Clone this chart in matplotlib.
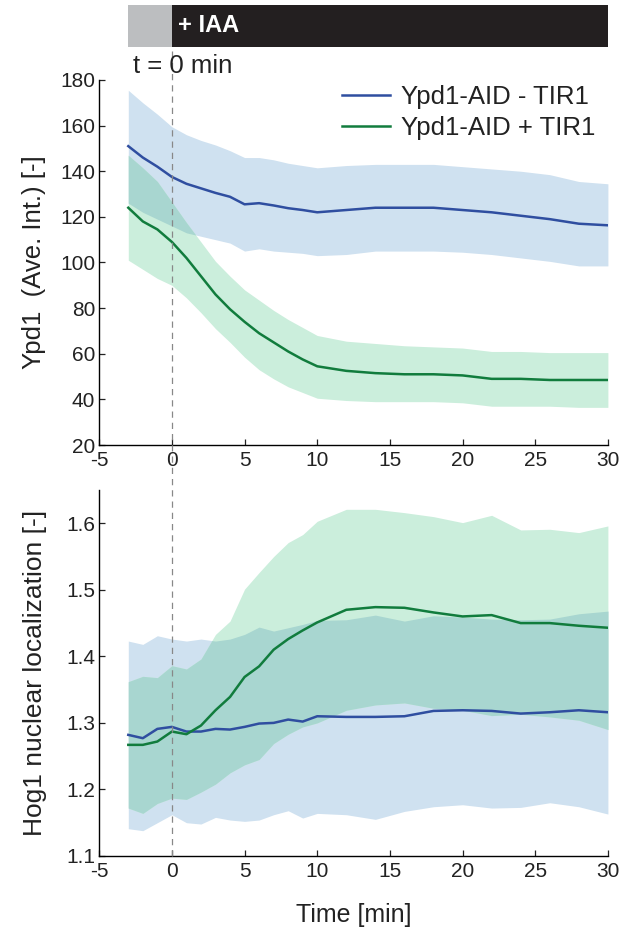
import matplotlib
matplotlib.use("Agg")
import matplotlib.pyplot as plt
import matplotlib.transforms as mtrans
from matplotlib.lines import Line2D
import numpy as np

plt.rcParams['font.family'] = ['Liberation Sans', 'DejaVu Sans']

# ---- data ----
time = [-3, -2, -1, 0, 1, 2, 3, 4, 5, 6, 7, 8, 9, 10, 12, 14, 16, 18, 20, 22, 24, 26, 28, 30]

# Top panel: Ypd1 average intensity
ypd_minus_mean = [151, 146, 142, 137.5, 134.5, 132.5, 130.5, 128.8, 125.5, 126, 125, 123.8, 123, 122,
                  123, 124, 124, 124, 123, 122, 120.5, 119, 117, 116.3]
ypd_minus_up = [175.5, 170, 165, 159.5, 156, 153.5, 151.5, 149, 146, 146, 145, 143.5, 142.5, 141.5,
                142.5, 143, 143, 143, 142, 141, 140, 138.5, 135.5, 134.5]
ypd_minus_lo = [126, 122, 119, 116, 113, 111.5, 110, 108.5, 105, 106, 105, 104.5, 104, 103,
                103.5, 105, 105, 105, 104.5, 103.5, 102, 100.5, 98.5, 98.5]
ypd_plus_mean = [124, 118, 114.5, 109, 102, 94, 86, 79.5, 74, 69, 65, 61, 57.5, 54.5,
                 52.5, 51.5, 51, 51, 50.5, 49, 49, 48.5, 48.5, 48.5]
ypd_plus_up = [147, 141.5, 135.5, 126.5, 117.5, 109, 100.5, 94, 88, 83.5, 79, 75, 71.5, 68,
               65.5, 64.5, 63.5, 63, 62.5, 61, 61, 60.5, 60.5, 60.5]
ypd_plus_lo = [101, 97, 93, 90, 84.5, 78, 71, 65, 58.5, 53, 49, 45.5, 43, 40.5,
               39.5, 39, 39, 39, 38.5, 37, 37, 37, 36.5, 36.5]

# Bottom panel: Hog1 nuclear localization
hog_minus_mean = [1.282, 1.277, 1.291, 1.294, 1.287, 1.287, 1.291, 1.290, 1.294, 1.299, 1.300, 1.305,
                  1.302, 1.310, 1.309, 1.309, 1.310, 1.318, 1.319, 1.318, 1.314, 1.316, 1.319, 1.316]
hog_minus_up = [1.423, 1.418, 1.431, 1.426, 1.423, 1.426, 1.423, 1.426, 1.433, 1.444, 1.438, 1.443,
                1.448, 1.454, 1.455, 1.462, 1.453, 1.461, 1.459, 1.456, 1.455, 1.456, 1.464, 1.468]
hog_minus_lo = [1.141, 1.138, 1.150, 1.162, 1.150, 1.148, 1.158, 1.154, 1.152, 1.154, 1.162, 1.168,
                1.157, 1.164, 1.162, 1.155, 1.167, 1.174, 1.177, 1.172, 1.173, 1.180, 1.174, 1.163]
hog_plus_mean = [1.267, 1.267, 1.272, 1.287, 1.283, 1.296, 1.319, 1.339, 1.369, 1.385, 1.410, 1.426,
                 1.439, 1.451, 1.470, 1.474, 1.473, 1.466, 1.460, 1.462, 1.450, 1.450, 1.446, 1.443]
hog_plus_up = [1.362, 1.370, 1.368, 1.386, 1.381, 1.396, 1.433, 1.453, 1.501, 1.526, 1.550, 1.571,
               1.583, 1.603, 1.621, 1.621, 1.616, 1.610, 1.601, 1.612, 1.590, 1.591, 1.586, 1.596]
hog_plus_lo = [1.172, 1.164, 1.179, 1.187, 1.185, 1.196, 1.208, 1.225, 1.237, 1.245, 1.269, 1.283,
               1.294, 1.300, 1.319, 1.327, 1.330, 1.322, 1.319, 1.311, 1.313, 1.309, 1.304, 1.290]

labels = ['Ypd1-AID - TIR1', 'Ypd1-AID + TIR1']
xticks = [-5, 0, 5, 10, 15, 20, 25, 30]
top_yticks = [20, 40, 60, 80, 100, 120, 140, 160, 180]
bot_yticks = [1.1, 1.2, 1.3, 1.4, 1.5, 1.6]
iaa_start = 0
pre_start = -3

# ---- style ----
BLUE = '#2f4ea0'
GREEN = '#117c3d'
BLUE_F = '#cfe1f0'
GREEN_F = '#cbeedc'
OVER_F = '#a8d6d0'
TXT = '#222222'

fig = plt.figure(figsize=(6.28, 9.30), dpi=100)
ax1 = fig.add_axes([0.158, 0.5215, 0.81, 0.3925])
ax2 = fig.add_axes([0.158, 0.0796, 0.81, 0.3935])

def bands(ax, x, bl, bu, gl, gu):
    x = np.asarray(x, float)
    bl, bu, gl, gu = [np.asarray(a, float) for a in (bl, bu, gl, gu)]
    ax.fill_between(x, bl, bu, color=BLUE_F, lw=0, zorder=1)
    ax.fill_between(x, gl, gu, color=GREEN_F, lw=0, zorder=1)
    xf = np.linspace(x[0], x[-1], 2000)
    blf, buf, glf, guf = [np.interp(xf, x, a) for a in (bl, bu, gl, gu)]
    lo = np.maximum(blf, glf)
    hi = np.minimum(buf, guf)
    ax.fill_between(xf, lo, hi, where=hi > lo, color=OVER_F, lw=0, zorder=2, interpolate=True)

bands(ax1, time, ypd_minus_lo, ypd_minus_up, ypd_plus_lo, ypd_plus_up)
ax1.plot(time, ypd_minus_mean, color=BLUE, lw=1.8, zorder=4, label=labels[0])
ax1.plot(time, ypd_plus_mean, color=GREEN, lw=1.8, zorder=4, label=labels[1])

bands(ax2, time, hog_minus_lo, hog_minus_up, hog_plus_lo, hog_plus_up)
ax2.plot(time, hog_minus_mean, color=BLUE, lw=1.8, zorder=4)
ax2.plot(time, hog_plus_mean, color=GREEN, lw=1.8, zorder=4)

for ax in (ax1, ax2):
    ax.set_xlim(-5, 30)
    ax.set_xticks(xticks)
    ax.set_xticklabels([str(v) for v in xticks])
    ax.spines['top'].set_visible(False)
    ax.spines['right'].set_visible(False)
    ax.spines['left'].set_linewidth(1.0)
    ax.spines['bottom'].set_linewidth(1.0)
    ax.tick_params(direction='in', length=4, width=0.9, labelsize=15, colors=TXT)
    ax.tick_params(axis='x', pad=4)
    ax.tick_params(axis='y', pad=3)
    ax.set_facecolor('none')

ax1.set_ylim(20, 180)
ax1.set_yticks(top_yticks)
ax1.set_ylabel('Ypd1  (Ave. Int.) [-]', fontsize=18.5, color=TXT, labelpad=10)

ax2.set_ylim(1.1, 1.65)
ax2.set_yticks(bot_yticks)
ax2.set_yticklabels(['1.1', '1.2', '1.3', '1.4', '1.5', '1.6'])
ax2.set_ylabel('Hog1 nuclear localization [-]', fontsize=19, color=TXT, labelpad=14)
ax2.set_xlabel('Time [min]', fontsize=18, color=TXT, labelpad=16)

# dashed t = 0 line spanning from the IAA bar down to the lower axis
trans = mtrans.blended_transform_factory(ax2.transData, fig.transFigure)
fig.add_artist(Line2D([iaa_start, iaa_start], [0.0796, 0.9495], transform=trans,
                      ls=(0, (5, 4)), color='#888888', lw=0.9, zorder=3))

leg = ax1.legend(loc='upper right', frameon=False, fontsize=18.5, handlelength=1.9,
                 handletextpad=0.4, labelspacing=0.3, borderaxespad=0.0,
                 bbox_to_anchor=(0.995, 1.015))
for t in leg.get_texts():
    t.set_color(TXT)

# IAA bar
axb = fig.add_axes([0.158, 0.9495, 0.81, 0.0451])
axb.set_xlim(-5, 30)
axb.set_ylim(0, 1)
axb.axis('off')
axb.axvspan(pre_start, iaa_start, color='#bcbec0', lw=0)
axb.axvspan(iaa_start, 30, color='#231f20', lw=0)
axb.text(iaa_start + 0.4, 0.5, '+ IAA', color='white', fontsize=17, fontweight='bold',
         va='center', ha='left')

fig.text(133 / 628, 1 - 66 / 930, 't = 0 min', fontsize=18.5, color=TXT, va='center', ha='left')

fig.savefig('out.png', dpi=100)
